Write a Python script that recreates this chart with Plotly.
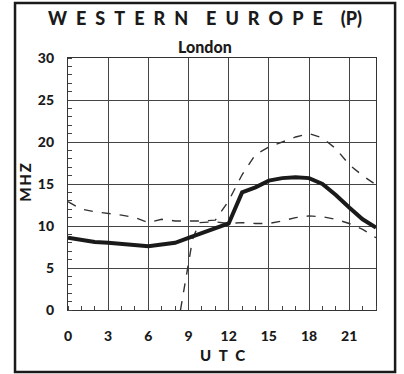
import plotly.graph_objects as go

# ---------------------------------------------------------------------------
# Data (UTC hour -> MHz)
# ---------------------------------------------------------------------------
hours = list(range(24))
median_muf = [8.6, 8.3, 8.1, 8.0, 7.9, 7.8, 7.6, 7.8, 8.0, 8.6, 9.2, 9.8,
              10.3, 14.0, 14.6, 15.4, 15.7, 15.8, 15.7, 15.0, 13.7, 12.2, 10.8, 9.8]
upper_decile = [12.9, 12.0, 11.7, 11.5, 11.3, 11.0, 10.4, 10.8, 10.6, 10.6, 10.6, 10.7,
                13.0, 16.1, 18.5, 19.4, 20.0, 20.6, 21.0, 20.5, 19.2, 17.3, 16.0, 14.9]
lower_hours = [8.4, 9.3, 9.8, 11, 12, 13, 14, 15, 16, 17, 18, 19, 20, 21, 22, 23]
lower_decile = [0.0, 8.4, 10.4, 10.5, 10.3, 10.4, 10.3, 10.3, 10.6, 11.0, 11.2, 11.1,
                10.8, 10.3, 9.6, 8.6]

x_ticks = [0, 3, 6, 9, 12, 15, 18, 21]
y_ticks = [0, 5, 10, 15, 20, 25, 30]

INK = "#1a1a1a"
FONT = "Lato"
BOLD = 900

fig = go.Figure()
fig.add_trace(go.Scatter(x=hours, y=upper_decile, mode="lines",
                         line=dict(color="#333", width=1.4, dash="dash")))
fig.add_trace(go.Scatter(x=lower_hours, y=lower_decile, mode="lines",
                         line=dict(color="#333", width=1.4, dash="dash")))
fig.add_trace(go.Scatter(x=hours, y=median_muf, mode="lines",
                         line=dict(color=INK, width=4)))

axis_common = dict(
    showgrid=True, gridcolor="#444", gridwidth=1,
    showline=True, linecolor="#333", linewidth=1.2, mirror=True,
    zeroline=False, ticks="", fixedrange=True,
    tickfont=dict(family=FONT, size=14, color=INK, weight=BOLD),
    minor=dict(ticks="inside", ticklen=4, tickcolor="#444", tickwidth=1, showgrid=False),
)

fig.update_layout(
    width=404, height=374,
    margin=dict(l=68, r=28, t=58, b=64),
    paper_bgcolor="white", plot_bgcolor="white",
    showlegend=False,
    xaxis=dict(range=[0, 23], tickvals=x_ticks, ticklabelstandoff=13,
               minor_dtick=1, minor_tick0=0, **axis_common),
    yaxis=dict(range=[0, 30], tickvals=y_ticks, ticklabelstandoff=10,
               minor_dtick=1, minor_tick0=0, **axis_common),
)

# outer frame
fig.add_shape(type="rect", xref="paper", yref="paper",
              x0=-0.172, x1=1.062, y0=-0.246, y1=1.218,
              line=dict(color=INK, width=2.5), layer="below")

sp = "\u2002"
thin = "\u2009"
label = dict(xref="paper", yref="paper", showarrow=False,
             xanchor="center", yanchor="middle")
fig.add_annotation(text=sp.join("WESTERN") + sp * 2 + sp.join("EUROPE") + sp * 2 + "(P)",
                   x=0.445, y=1.159, font=dict(family=FONT, size=18, color=INK, weight=BOLD),
                   **label)
fig.add_annotation(text="London", x=0.445, y=1.044,
                   font=dict(family=FONT, size=16, color=INK, weight=BOLD), **label)
fig.add_annotation(text=sp.join("UTC"), x=0.5, y=-0.179,
                   font=dict(family=FONT, size=15, color=INK, weight=BOLD), **label)
fig.add_annotation(text=thin.join("MHZ"), x=-0.14, y=0.508, textangle=-90,
                   font=dict(family=FONT, size=15, color=INK, weight=BOLD), **label)

fig.write_html("out.html", config={"displayModeBar": False},
               post_script="document.body.style.margin='0';")
